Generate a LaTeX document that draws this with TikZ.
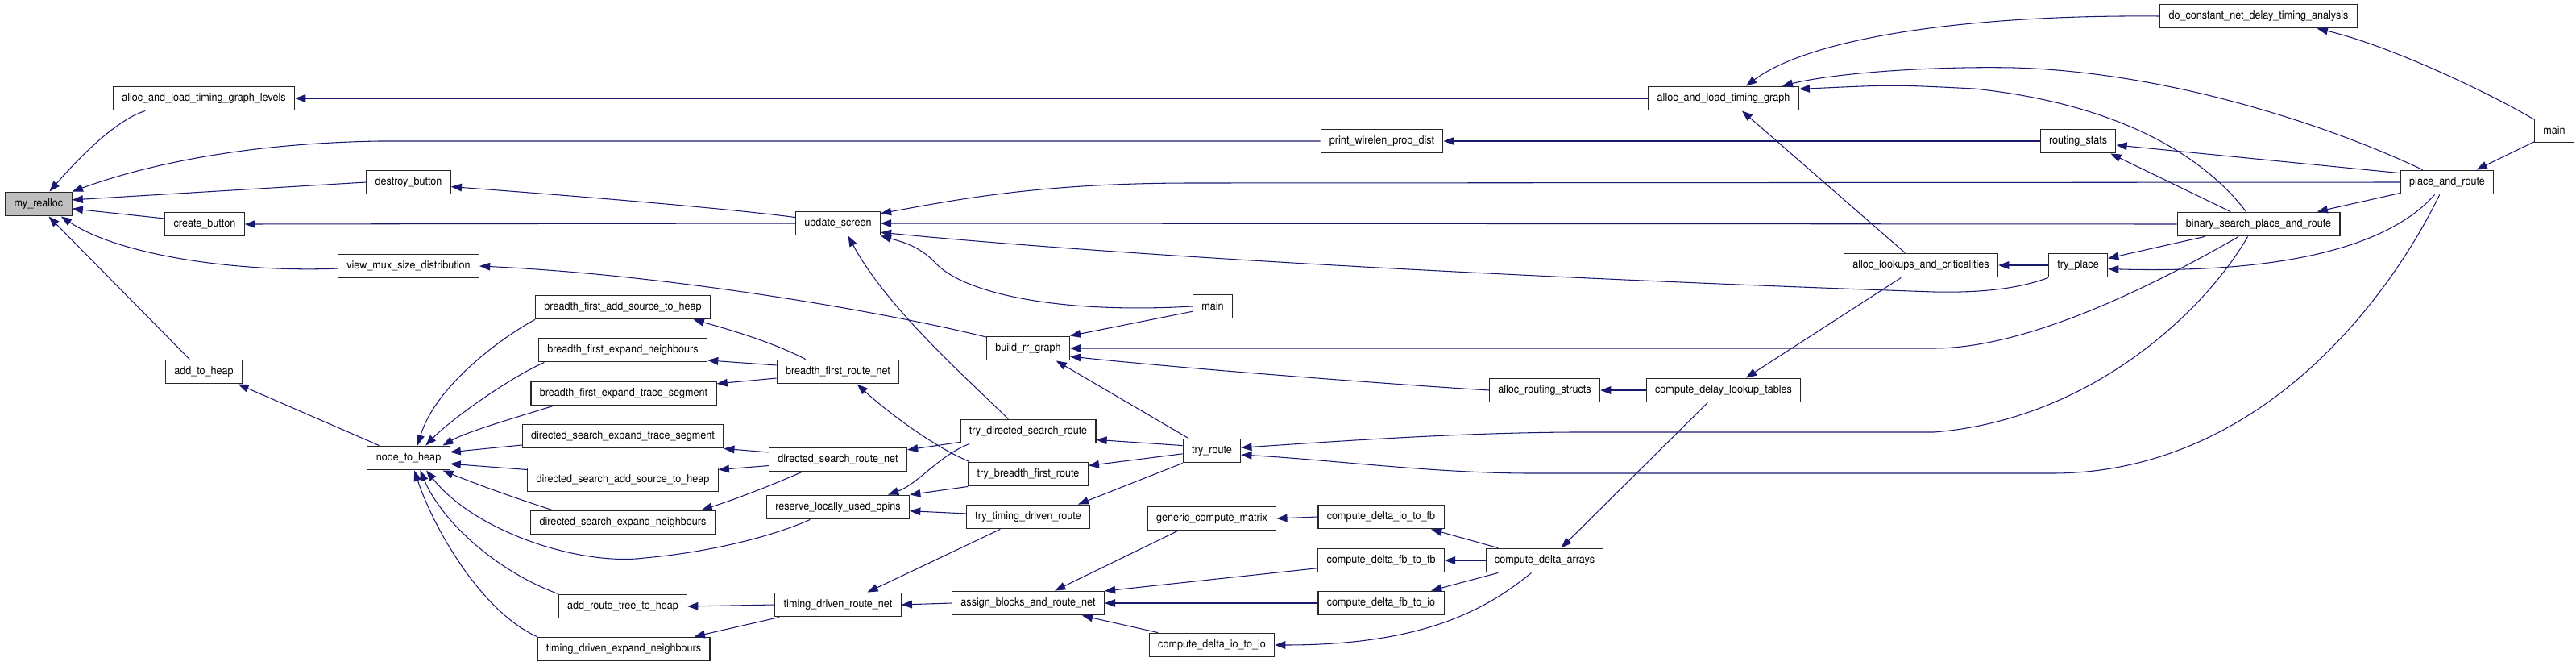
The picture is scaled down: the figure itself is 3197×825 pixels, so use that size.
\documentclass[tikz,border=0pt]{standalone}
\usepackage{fontspec}
\setmainfont{TeX Gyre Heros}[FakeStretch=0.92]
\usetikzlibrary{arrows.meta}
\definecolor{edgeblue}{HTML}{191970}
\definecolor{rootgray}{HTML}{BFBFBF}
\tikzset{
  func/.style={draw=black!85, line width=0.6pt, fill=white, minimum height=17pt,
    inner xsep=6.2pt, inner ysep=0pt, font=\fontsize{7.8}{9}\selectfont},
  root/.style={func, fill=rootgray},
  call/.style={draw=edgeblue, line width=0.6pt, -{Triangle[length=7.5pt,width=5.5pt]}}
}
\begin{document}
\begin{tikzpicture}[x=0.02cm, y=-0.02cm]
\useasboundingbox (0,0) rectangle (3197,825);
% functions, one column after the other
\node[root] (myrealloc) at (48,253) {my\_realloc};
\node[func] (levels) at (253,122) {alloc\_and\_load\_timing\_graph\_levels};
\node[func] (create) at (254,278) {create\_button};
\node[func] (addheap) at (253,461) {add\_to\_heap};
\node[func] (destroy) at (507,226) {destroy\_button};
\node[func] (viewmux) at (507,330) {view\_mux\_size\_distribution};
\node[func] (nodeheap) at (507,568) {node\_to\_heap};
\node[func] (bfasth) at (773,381) {breadth\_first\_add\_source\_to\_heap};
\node[func] (bfen) at (773,434) {breadth\_first\_expand\_neighbours};
\node[func] (bfets) at (774,488) {breadth\_first\_expand\_trace\_segment};
\node[func] (dsets) at (773,541) {directed\_search\_expand\_trace\_segment};
\node[func] (dsasth) at (773,595) {directed\_search\_add\_source\_to\_heap};
\node[func] (dsen) at (773,648) {directed\_search\_expand\_neighbours};
\node[func] (artth) at (773,752) {add\_route\_tree\_to\_heap};
\node[func] (tden) at (774,805) {timing\_driven\_expand\_neighbours};
\node[func] (update) at (1040,277) {update\_screen};
\node[func] (bfrn) at (1040,461) {breadth\_first\_route\_net};
\node[func] (dsrn) at (1040,570) {directed\_search\_route\_net};
\node[func] (rluo) at (1040,629) {reserve\_locally\_used\_opins};
\node[func] (tdrn) at (1040,750) {timing\_driven\_route\_net};
\node[func] (buildrr) at (1276,432) {build\_rr\_graph};
\node[func] (tdsr) at (1276,535) {try\_directed\_search\_route};
\node[func] (tbfr) at (1276,588) {try\_breadth\_first\_route};
\node[func] (ttdr) at (1276,641) {try\_timing\_driven\_route};
\node[func] (assign) at (1276,748) {assign\_blocks\_and\_route\_net};
\node[func] (mainA) at (1505,380) {main};
\node[func] (tryroute) at (1504,559) {try\_route};
\node[func] (generic) at (1504,643) {generic\_compute\_matrix};
\node[func] (dio) at (1504,800) {compute\_delta\_io\_to\_io};
\node[func] (printw) at (1715,175) {print\_wirelen\_prob\_dist};
\node[func] (diofb) at (1714,641) {compute\_delta\_io\_to\_fb};
\node[func] (dfbfb) at (1714,695) {compute\_delta\_fb\_to\_fb};
\node[func] (dfbio) at (1714,748) {compute\_delta\_fb\_to\_io};
\node[func] (routingstructs) at (1917,484) {alloc\_routing\_structs};
\node[func] (deltaarrays) at (1917,695) {compute\_delta\_arrays};
\node[func] (aaltg) at (2139,122) {alloc\_and\_load\_timing\_graph};
\node[func] (delaytables) at (2139,484) {compute\_delay\_lookup\_tables};
\node[func] (lookups) at (2384,329) {alloc\_lookups\_and\_criticalities};
\node[func] (routingstats) at (2579,175) {routing\_stats};
\node[func] (tryplace) at (2579,329) {try\_place};
\node[func] (doconst) at (2803,20) {do\_constant\_net\_delay\_timing\_analysis};
\node[func] (binsearch) at (2803,278) {binary\_search\_place\_and\_route};
\node[func] (placeroute) at (3037,226) {place\_and\_route};
\node[func] (mainB) at (3170,162) {main};

% callers of my_realloc
\draw[call] (levels.192) .. controls (140,150) and (90,205) .. (myrealloc.49);
\draw[call] (printw.west) -- (470,175) .. controls (300,178) and (180,205) .. (myrealloc.north east);
\draw[call] (destroy.west) -- (myrealloc.7);
\draw[call] (create.172) -- (myrealloc.-8);
\draw[call] (viewmux.182) .. controls (300,338) and (150,318) .. (myrealloc.-29);
\draw[call] (addheap.139) -- (myrealloc.-51);
\draw[call] (aaltg.west) -- (levels.east);
\draw[call] (update.172) .. controls (900,258) and (700,242) .. (destroy.-6);
\draw[call] (update.west) -- (create.east);
\draw[call] (buildrr.165) .. controls (1120,392) and (850,342) .. (viewmux.east);
\draw[call] (routingstats.west) -- (printw.east);
\draw[call] (nodeheap.157) -- (addheap.-20);
% callers of update_screen
\draw[call] (placeroute.west) -- (1480,227) .. controls (1300,227) and (1200,245) .. (update.13);
\draw[call] (binsearch.west) -- (update.east);
\draw[call] (tryplace.south west) .. controls (2500,360) and (2450,363) .. (2400,362)
  .. controls (1900,345) and (1400,318) .. (update.-12);
\draw[call] (mainA.west) .. controls (1300,390) and (1190,360) .. (1160,325)
  .. controls (1140,305) and (1120,300) .. (update.south east);
\draw[call] (tdsr.148) .. controls (1190,460) and (1100,380) .. (update.-51);
% callers of node_to_heap
\draw[call] (bfasth.188) .. controls (620,420) and (540,480) .. (nodeheap.54);
\draw[call] (bfen.189) .. controls (630,470) and (560,520) .. (nodeheap.36);
\draw[call] (bfets.190) .. controls (640,518) and (580,535) .. (nodeheap.20);
\draw[call] (dsets.185) -- (nodeheap.8);
\draw[call] (dsasth.174) -- (nodeheap.-8);
\draw[call] (dsen.170) .. controls (640,618) and (590,600) .. (nodeheap.-20);
\draw[call] (rluo.204) .. controls (960,665) and (880,685) .. (800,692)
  .. controls (720,702) and (590,660) .. (nodeheap.-35);
\draw[call] (artth.north west) .. controls (620,710) and (550,650) .. (nodeheap.-47);
\draw[call] (tden.north west) .. controls (600,760) and (540,660) .. (nodeheap.-65);
% route nets
\draw[call] (bfrn.159) .. controls (960,425) and (910,410) .. (bfasth.-10);
\draw[call] (bfrn.174) -- (bfen.-7);
\draw[call] (bfrn.186) -- (bfets.6);
\draw[call] (dsrn.174) -- (dsets.-7);
\draw[call] (dsrn.185) -- (dsasth.6);
\draw[call] (dsrn.199) .. controls (950,605) and (910,620) .. (dsen.9);
\draw[call] (tdrn.west) -- (artth.east);
\draw[call] (tdrn.192) -- (tden.10);
\draw[call] (tbfr.168) .. controls (1160,555) and (1100,510) .. (bfrn.-33);
\draw[call] (tdsr.189) -- (dsrn.8);
\draw[call] (tdsr.192) .. controls (1165,565) and (1140,600) .. (rluo.14);
\draw[call] (tbfr.south west) -- (rluo.north east);
\draw[call] (ttdr.177) -- (rluo.-3);
\draw[call] (ttdr.204) -- (tdrn.23);
\draw[call] (assign.west) -- (tdrn.east);
\draw[call] (tryroute.170) -- (tdsr.-7);
\draw[call] (tryroute.186) -- (tbfr.8);
\draw[call] (tryroute.203) -- (ttdr.14);
% callers of build_rr_graph
\draw[call] (mainA.194) -- (buildrr.north east);
\draw[call] (binsearch.212) .. controls (2680,350) and (2520,432) .. (2400,432) -- (buildrr.east);
\draw[call] (routingstructs.west) .. controls (1750,478) and (1500,460) .. (buildrr.-11);
\draw[call] (tryroute.152) -- (buildrr.-24);
% callers of try_route
\draw[call] (binsearch.229) .. controls (2740,380) and (2600,520) .. (2400,536) -- (1950,536)
  .. controls (1800,537) and (1650,548) .. (tryroute.6);
\draw[call] (placeroute.239) .. controls (2960,380) and (2800,585) .. (2550,587) -- (1900,587)
  .. controls (1780,587) and (1650,570) .. (tryroute.-8);
% placement and timing
\draw[call] (binsearch.193) -- (tryplace.13);
\draw[call] (placeroute.225) .. controls (2970,300) and (2850,340) .. (tryplace.-7);
\draw[call] (tryplace.west) -- (lookups.east);
\draw[call] (lookups.142) -- (aaltg.-34);
\draw[call] (lookups.212) -- (delaytables.29);
\draw[call] (delaytables.west) -- (routingstructs.east);
\draw[call] (delaytables.218) -- (deltaarrays.37);
\draw[call] (deltaarrays.165) -- (diofb.-14);
\draw[call] (deltaarrays.west) -- (dfbfb.east);
\draw[call] (deltaarrays.195) -- (dfbio.14);
\draw[call] (deltaarrays.223) .. controls (1840,760) and (1760,800) .. (dio.east);
\draw[call] (diofb.west) -- (generic.east);
\draw[call] (dfbfb.187) -- (assign.9);
\draw[call] (dfbio.west) -- (assign.east);
\draw[call] (generic.200) -- (assign.25);
\draw[call] (dio.167) -- (assign.-13);
\draw[call] (doconst.west) .. controls (2450,18) and (2250,45) .. (aaltg.29);
\draw[call] (placeroute.153) .. controls (2900,160) and (2700,90) .. (2500,84)
  .. controls (2400,82) and (2280,90) .. (aaltg.12);
\draw[call] (binsearch.135) .. controls (2740,200) and (2640,130) .. (2450,110)
  .. controls (2350,105) .. (aaltg.7);
\draw[call] (placeroute.169) -- (routingstats.-6);
\draw[call] (binsearch.156) -- (routingstats.-21);
\draw[call] (mainB.151) .. controls (3080,110) and (2960,55) .. (doconst.-12);
\draw[call] (mainB.209) -- (placeroute.23);
\draw[call] (placeroute.193) -- (binsearch.12);
\end{tikzpicture}
\end{document}
